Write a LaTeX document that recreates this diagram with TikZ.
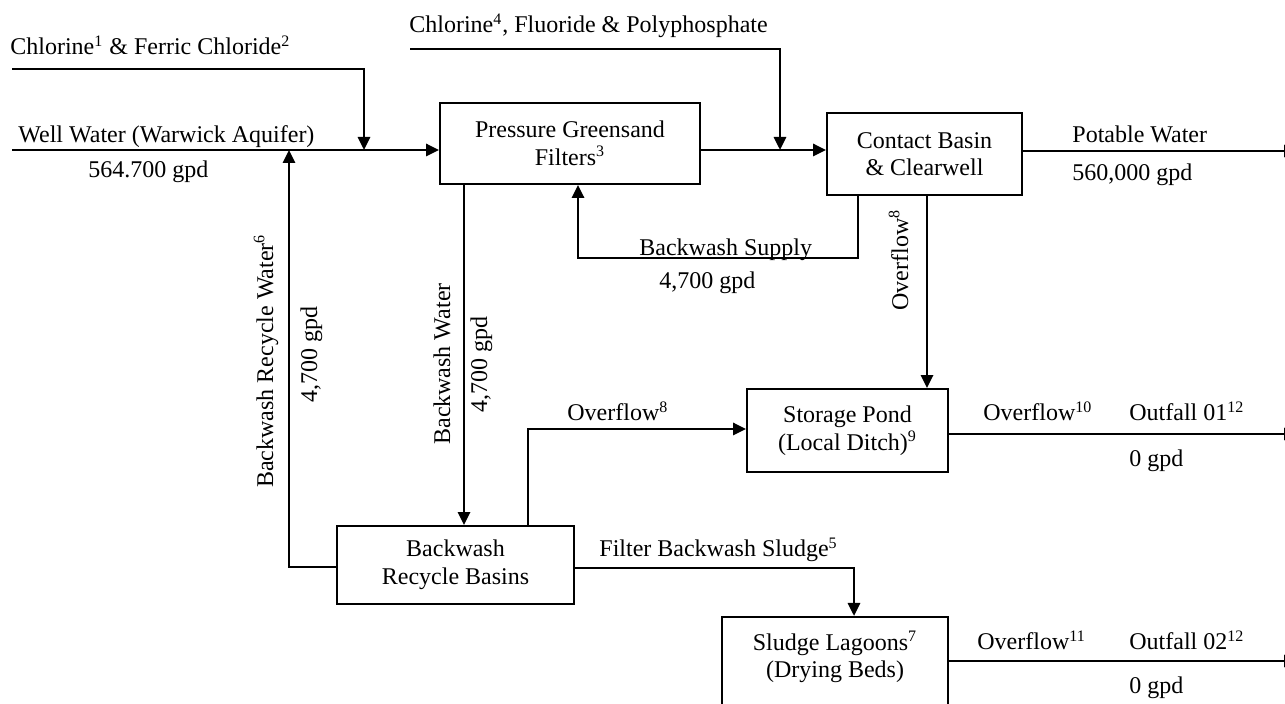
\documentclass[tikz,border=0pt]{standalone}
\usepackage{fontspec}
\setmainfont{Liberation Serif}
\usetikzlibrary{arrows.meta}
\begin{document}
\begin{tikzpicture}[x=0.5pt,y=-0.5pt,
  every node/.style={font=\fontsize{12}{13.75}\selectfont, inner sep=0pt},
  proc/.style={draw, line width=0.9pt, align=center, fill=white},
  flow/.style={line width=1.45pt},
  flowarr/.style={flow, -{Triangle[length=6.5pt,width=6pt]}},
  lbl/.style={anchor=base west},
  vlbl/.style={anchor=base, rotate=90}]
\useasboundingbox (0,0) rectangle (1285,704);
\clip (0,0) rectangle (1285,704);
% boxes
\node (pgf) [proc, minimum width=130pt, minimum height=40.5pt] at (570,143.5) {Pressure Greensand\\Filters\textsuperscript{3}};
\node (cb) [proc, minimum width=97.5pt, minimum height=41pt] at (924.5,154) {Contact Basin\\\& Clearwell};
\node (sp) [proc, minimum width=100.5pt, minimum height=41.5pt] at (847.5,430.5) {Storage Pond\\(Local Ditch)\textsuperscript{9}};
\node (brb) [proc, minimum width=118.5pt, minimum height=39pt] at (455.5,565) {Backwash\\Recycle Basins};
\node (sl) [draw, line width=0.9pt, minimum width=113pt, minimum height=55pt, anchor=north] at (835,616) {};
\node (sltxt) [align=center] at (835,657) {Sludge Lagoons\textsuperscript{7}\\(Drying Beds)};
% coordinates
\coordinate (src1) at (12,69);
\coordinate (src2) at (12,150);
\coordinate (src3) at (410,49);
\coordinate (j1) at (364,150);
\coordinate (j2) at (780,150);
\coordinate (j3) at (289,150);
\coordinate (outP) at (1297,151);
\coordinate (out1) at (1297,434);
\coordinate (out2) at (1297,661);
\coordinate (bs1) at (858,258);
\coordinate (bs2) at (578,258);
\coordinate (ov) at (927,300);
\coordinate (bw) at (464,300);
\coordinate (ov2) at (528,429);
\coordinate (rc) at (289,567);
\coordinate (fs) at (854,568);
% connectors
\draw[flowarr] (src1) -| (j1);
\draw[flowarr] (src2) -- (pgf.west |- src2);
\draw[flowarr] (src3) -| (j2);
\draw[flowarr] (pgf.east |- src2) -- (cb.west |- src2);
\draw[flowarr] (cb.east |- outP) -- (outP);
\draw[flowarr] (cb.south -| bs1) -- (bs1) -- (bs2) -- (pgf.south -| bs2);
\draw[flowarr] (cb.south -| ov) -- (sp.north -| ov);
\draw[flowarr] (pgf.south -| bw) -- (brb.north -| bw);
\draw[flowarr] (brb.north -| ov2) -- (ov2) -- (sp.west |- ov2);
\draw[flowarr] (brb.west |- rc) -- (rc) -- (j3);
\draw[flowarr] (brb.east |- fs) -- (fs) -- (sl.north -| fs);
\draw[flowarr] (sp.east |- out1) -- (out1);
\draw[flowarr] (sl.east |- out2) -- (out2);
% labels
\node[lbl] (t1) at (10,55) {Chlorine\textsuperscript{1} \& Ferric Chloride\textsuperscript{2}};
\node[lbl] (t2) at (18,143) {Well Water (Warwick Aquifer)};
\node[lbl] (t3) at (88,178) {564.700 gpd};
\node[lbl] (t4) at (409,33) {Chlorine\textsuperscript{4}, Fluoride \& Polyphosphate};
\node[lbl] (t5) at (1072,143) {Potable Water};
\node[lbl] (t6) at (1072,181) {560,000 gpd};
\node[lbl] (t7) at (639,256) {Backwash Supply};
\node[lbl] (t8) at (659,289) {4,700 gpd};
\node[vlbl] (t9) at (908,260) {Overflow\textsuperscript{8}};
\node[vlbl] (t10) at (273,361) {Backwash Recycle Water\textsuperscript{6}};
\node[vlbl] (t11) at (317,355) {4,700 gpd};
\node[vlbl] (t12) at (450,364) {Backwash Water};
\node[vlbl] (t13) at (487,365) {4,700 gpd};
\node[lbl] (t14) at (567,421) {Overflow\textsuperscript{8}};
\node[lbl] (t15) at (983,421) {Overflow\textsuperscript{10}};
\node[lbl] (t16) at (1129,421) {Outfall 01\textsuperscript{12}};
\node[lbl] (t17) at (1129,467) {0 gpd};
\node[lbl] (t18) at (599,557) {Filter Backwash Sludge\textsuperscript{5}};
\node[lbl] (t19) at (977,650) {Overflow\textsuperscript{11}};
\node[lbl] (t20) at (1129,650) {Outfall 02\textsuperscript{12}};
\node[lbl] (t21) at (1129,694) {0 gpd};
\end{tikzpicture}
\end{document}
